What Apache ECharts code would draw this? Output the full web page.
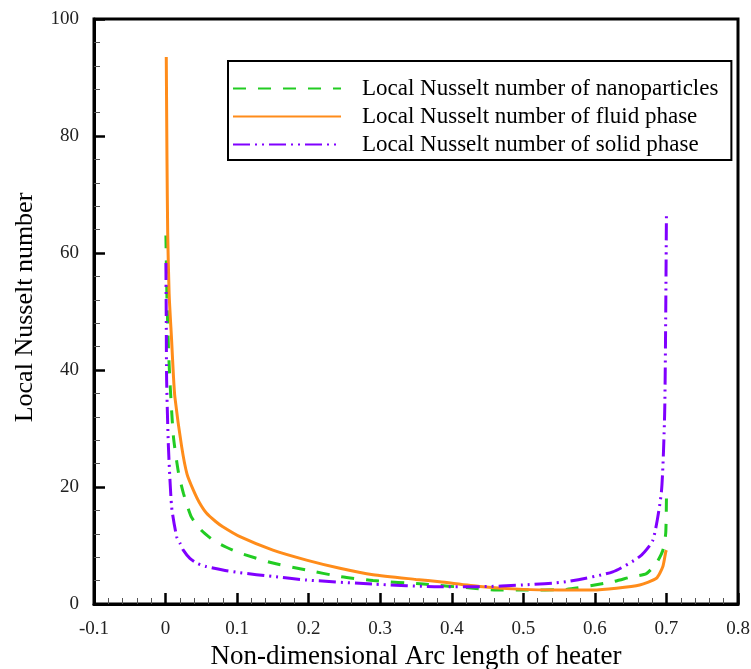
<!DOCTYPE html>
<html>
<head>
<meta charset="utf-8">
<script src="https://cdn.jsdelivr.net/npm/echarts@6/dist/echarts.min.js"></script>
<style>
  html, body { margin: 0; padding: 0; background: #fff; }
  #main { width: 751px; height: 669px; }
</style>
</head>
<body>
<div id="main"></div>
<script>
// values
const nanoX = [0.0005, 0.002, 0.004, 0.006, 0.011, 0.018, 0.025, 0.036, 0.05, 0.0667, 0.085, 0.104, 0.150, 0.197, 0.2436, 0.29, 0.36, 0.43, 0.462, 0.50, 0.56, 0.625, 0.65, 0.672, 0.686, 0.695, 0.699, 0.7];
const nanoY = [63, 52, 44, 38.3, 28.6, 22.5, 18.9, 14.9, 12.6, 10.9, 9.7, 8.7, 7.0, 5.8, 4.7, 4.0, 3.4, 2.7, 2.4, 2.4, 2.5, 3.8, 4.6, 5.2, 7.0, 9.2, 12.1, 18.1];

const fluidX = [0.001, 0.002, 0.003, 0.005, 0.0085, 0.011, 0.013, 0.0225, 0.03, 0.0387, 0.047, 0.0574, 0.07, 0.080, 0.104, 0.150, 0.197, 0.2436, 0.29, 0.35, 0.383, 0.439, 0.4996, 0.55, 0.597, 0.63, 0.6626, 0.686, 0.695, 0.699, 0.7];
const fluidY = [93.5, 76, 63.4, 53, 45, 39, 35.4, 26.9, 22.2, 19.5, 17.4, 15.5, 14.1, 13.2, 11.5, 9.2, 7.5, 6.1, 5.0, 4.2, 3.8, 3.0, 2.5, 2.4, 2.4, 2.7, 3.25, 4.4, 6.4, 8.9, 9.2];

const solidX = [0.0005, 0.001, 0.0015, 0.004, 0.0085, 0.0155, 0.0201, 0.0248, 0.034, 0.045, 0.057, 0.08, 0.104, 0.150, 0.197, 0.29, 0.383, 0.439, 0.4996, 0.56, 0.625, 0.6626, 0.681, 0.693, 0.6975, 0.699, 0.7];
const solidY = [58.3, 48, 38.3, 26.9, 16.6, 11.5, 10.4, 9.2, 7.8, 6.9, 6.4, 5.8, 5.35, 4.7, 4.1, 3.4, 2.96, 2.96, 3.25, 3.8, 5.5, 8.1, 10.9, 19.2, 32.6, 49.7, 67];

const seriesNames = [
  'Local Nusselt number of nanoparticles',
  'Local Nusselt number of fluid phase',
  'Local Nusselt number of solid phase'
];

function pairs(xs, ys) {
  return xs.map((x, i) => [x, ys[i]]);
}

const font = 'Liberation Serif, Times New Roman, serif';
const chart = echarts.init(document.getElementById('main'));

chart.setOption({
  backgroundColor: '#fff',
  animation: false,
  grid: {
    left: 94, right: 13, top: 19, bottom: 65,
    outerBoundsMode: 'none',
    containLabel: false,
    show: true, borderColor: '#000', borderWidth: 3
  },
  legend: {
    left: 228, top: 61,
    orient: 'vertical',
    padding: [16, 13, 4, 4],
    borderColor: '#000',
    borderWidth: 2,
    itemWidth: 108,
    itemHeight: 2,
    itemGap: 5,
    itemStyle: { opacity: 0 },
    textStyle: { fontFamily: font, fontSize: 23, color: '#000', padding: [0, 0, 0, 16] },
    data: seriesNames
  },
  xAxis: {
    type: 'value',
    min: -0.1, max: 0.8, interval: 0.1,
    name: 'Non-dimensional Arc length of heater',
    nameLocation: 'middle',
    nameGap: 38,
    nameTextStyle: { fontFamily: font, fontSize: 27, color: '#000' },
    axisLine: { onZero: false, lineStyle: { color: '#000', width: 3 } },
    axisTick: { inside: true, length: 11, lineStyle: { color: '#000', width: 2.5 } },
    minorTick: { show: true, splitNumber: 5, length: 6, lineStyle: { color: '#555', width: 1 } },
    splitLine: { show: false },
    axisLabel: {
      fontFamily: font, fontSize: 19, color: '#222', margin: 16,
      formatter: v => (Math.abs(v) < 1e-9 ? '0' : (+v.toFixed(1)).toString())
    }
  },
  yAxis: {
    type: 'value',
    min: 0, max: 100, interval: 20,
    name: 'Local Nusselt number',
    nameLocation: 'middle',
    nameGap: 56,
    nameTextStyle: { fontFamily: font, fontSize: 26, color: '#000', padding: [0, 0, 0, 8] },
    axisLine: { onZero: false, lineStyle: { color: '#000', width: 3 } },
    axisTick: { inside: true, length: 11, lineStyle: { color: '#000', width: 2.5 } },
    minorTick: { show: true, splitNumber: 5, length: 6, lineStyle: { color: '#555', width: 1 } },
    splitLine: { show: false },
    axisLabel: { fontFamily: font, fontSize: 19, color: '#222', margin: 15 }
  },
  series: [
    {
      name: seriesNames[0],
      type: 'line',
      symbol: 'none',
      smooth: 0.2,
      color: '#22cc22',
      lineStyle: { color: '#22cc22', width: 3, type: [13, 12] },
      data: pairs(nanoX, nanoY)
    },
    {
      name: seriesNames[1],
      type: 'line',
      symbol: 'none',
      smooth: 0.2,
      color: '#ff8c1a',
      lineStyle: { color: '#ff8c1a', width: 3 },
      data: pairs(fluidX, fluidY)
    },
    {
      name: seriesNames[2],
      type: 'line',
      symbol: 'none',
      smooth: 0.2,
      color: '#8000ff',
      lineStyle: { color: '#8000ff', width: 3, type: [17, 5, 2, 5, 2, 5] },
      data: pairs(solidX, solidY)
    }
  ]
});
</script>
</body>
</html>
